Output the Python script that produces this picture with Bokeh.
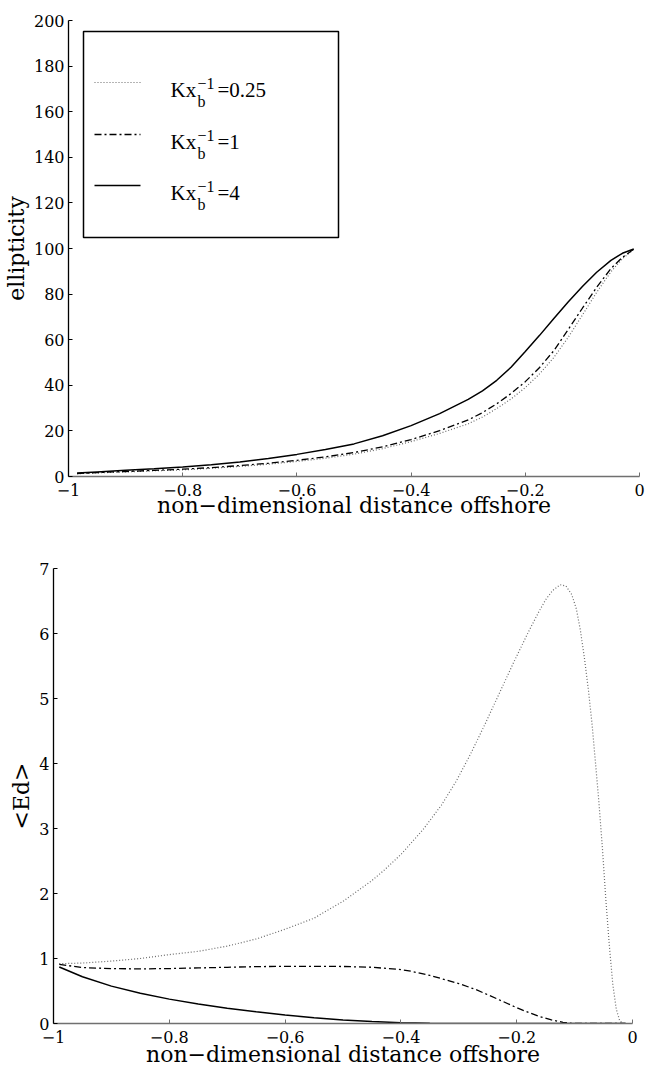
from bokeh.plotting import figure
from bokeh.models import (FixedTicker, BoxAnnotation, Arrow, Label, Range1d,
                          CustomJSTickFormatter)
from bokeh.embed import file_html
from bokeh.resources import INLINE

# ---------------- data ----------------
x_ticks = [-1, -0.8, -0.6, -0.4, -0.2, 0]
ell_ticks = [0, 20, 40, 60, 80, 100, 120, 140, 160, 180, 200]
ed_ticks = [0, 1, 2, 3, 4, 5, 6, 7]
series_labels = ["0.25", "1", "4"]

# top panel: ellipticity
ell_x = [-0.985, -0.95, -0.9, -0.85, -0.8, -0.75, -0.7, -0.65, -0.6, -0.55,
         -0.5, -0.45, -0.4, -0.35, -0.3, -0.275, -0.25, -0.225, -0.2, -0.175,
         -0.15, -0.125, -0.1, -0.075, -0.05, -0.03, -0.01]
ell_y_k4 = [1.5, 2.0, 2.7, 3.4, 4.2, 5.2, 6.4, 7.9, 9.7, 11.8,
            14.3, 17.9, 22.3, 27.6, 33.8, 37.6, 42.2, 47.9, 54.8, 61.9,
            69.3, 76.5, 83.3, 89.6, 94.8, 97.9, 99.8]
ell_y_k1 = [1.3, 1.7, 2.2, 2.7, 3.2, 3.9, 4.8, 5.8, 7.1, 8.6,
            10.5, 13.0, 16.2, 20.1, 24.8, 28.0, 31.9, 36.4, 41.6, 47.8,
            55.2, 64.4, 73.8, 83.0, 91.2, 96.1, 99.7]
ell_y_k025 = [1.2, 1.6, 2.0, 2.5, 2.9, 3.6, 4.4, 5.4, 6.6, 8.0,
              9.8, 12.2, 15.3, 18.9, 23.1, 26.1, 29.8, 34.0, 39.0, 45.0,
              52.2, 61.0, 70.8, 80.8, 89.8, 95.5, 99.6]

# bottom panel: <Ed>
ed_x_k025 = [-0.99, -0.95, -0.9, -0.85, -0.8, -0.75, -0.7, -0.65, -0.6, -0.55,
             -0.5, -0.45, -0.43, -0.4, -0.362, -0.33, -0.305, -0.28, -0.255, -0.23,
             -0.205, -0.18, -0.162, -0.15, -0.138, -0.125, -0.115, -0.105, -0.097,
             -0.09, -0.083, -0.076, -0.07, -0.064, -0.058, -0.052, -0.046, -0.04,
             -0.034, -0.028, -0.022, -0.016]
ed_y_k025 = [0.92, 0.93, 0.96, 1.0, 1.06, 1.11, 1.19, 1.3, 1.45, 1.62,
             1.88, 2.2, 2.35, 2.6, 2.98, 3.36, 3.72, 4.14, 4.6, 5.08,
             5.56, 6.02, 6.33, 6.52, 6.66, 6.75, 6.73, 6.6, 6.38,
             6.05, 5.62, 5.12, 4.62, 4.02, 3.4, 2.7, 1.9, 1.2,
             0.6, 0.22, 0.04, 0.0]
ed_x_k1 = [-0.99, -0.95, -0.9, -0.85, -0.8, -0.75, -0.7, -0.65, -0.6, -0.55,
           -0.5, -0.45, -0.4, -0.383, -0.35, -0.3, -0.27, -0.234, -0.198, -0.162,
           -0.14, -0.12, -0.105, -0.06, -0.012]
ed_y_k1 = [0.91, 0.86, 0.845, 0.84, 0.845, 0.855, 0.865, 0.875, 0.88, 0.88,
           0.877, 0.865, 0.83, 0.805, 0.74, 0.615, 0.52, 0.38, 0.235, 0.11,
           0.055, 0.018, 0.003, 0.0, 0.0]
ed_x_k4 = [-0.99, -0.95, -0.9, -0.85, -0.8, -0.75, -0.7, -0.65, -0.6, -0.55,
           -0.5, -0.45, -0.4, -0.35, -0.3, -0.25, -0.012]
ed_y_k4 = [0.87, 0.72, 0.575, 0.465, 0.375, 0.3, 0.235, 0.18, 0.13, 0.09,
           0.055, 0.03, 0.013, 0.004, 0.001, 0.0, 0.0]

# ---------------- styling ----------------
TICK_FONT = "DejaVu Serif"
LABEL_FONT = "DejaVu Serif"
LEG_FONT = "Liberation Serif"
DOT = dict(line_color="#6a6a6a", line_width=1.2, line_dash="1 2")
DASHDOT = dict(line_color="black", line_width=1.3, line_dash="7 3 2 3")
SOLID = dict(line_color="black", line_width=1.5)

minus_fmt = CustomJSTickFormatter(code="return tick < 0 ? '\u2212' + (-tick) : '' + tick;")


def make_fig(height, ymax, yticks, ylabel, borders, label_standoff):
    left, right, top, bottom = borders
    p = figure(width=648, height=height, output_backend="svg", toolbar_location=None,
               x_range=Range1d(-1, 0), y_range=Range1d(0, ymax),
               min_border_left=left, min_border_right=right,
               min_border_top=top, min_border_bottom=bottom)
    p.outline_line_color = None
    p.grid.visible = False
    p.background_fill_color = "white"
    p.border_fill_color = "white"
    p.xaxis.ticker = FixedTicker(ticks=x_ticks)
    p.yaxis.ticker = FixedTicker(ticks=yticks)
    p.xaxis.formatter = minus_fmt
    for ax in (p.xaxis[0], p.yaxis[0]):
        ax.major_tick_in = 4
        ax.major_tick_out = 0
        ax.minor_tick_line_color = None
        ax.major_label_text_font = TICK_FONT
        ax.major_label_text_font_size = "16px"
        ax.major_label_text_color = "black"
        ax.axis_label_text_font = LABEL_FONT
        ax.axis_label_text_font_size = "22px"
        ax.axis_label_text_font_style = "normal"
        ax.axis_label_text_color = "black"
    p.yaxis.axis_line_color = "black"
    p.yaxis.major_tick_line_color = "black"
    p.yaxis.axis_line_width = 1.3
    p.xaxis.axis_line_color = "#707070"
    p.xaxis.major_tick_line_color = "#707070"
    p.xaxis.axis_line_width = 1.5
    p.xaxis.axis_label = "non\u2212dimensional distance offshore"
    p.yaxis.axis_label = ylabel
    p.yaxis.major_label_standoff = 4
    p.yaxis.axis_label_standoff = 2
    p.xaxis.major_label_standoff = 7
    p.xaxis.axis_label_standoff = label_standoff
    return p


# ---------------- top figure ----------------
p1 = make_fig(538, 200, ell_ticks, "ellipticity", (68, 9, 20, 62), -6)
p1.line(ell_x, ell_y_k025, **DOT)
p1.line(ell_x, ell_y_k1, **DASHDOT)
p1.line(ell_x, ell_y_k4, **SOLID)

# legend drawn as annotations; page-pixel -> data helpers for the top frame
FX0, FX1, FY0, FY1 = 68, 639, 20, 476


def tx(px):
    return -1 + (px - FX0) / (FX1 - FX0)


def ty(py):
    return 200 * (FY1 - py) / (FY1 - FY0)


p1.add_layout(BoxAnnotation(left=tx(83), right=tx(338), top=ty(31), bottom=ty(237),
                            fill_color="white", fill_alpha=1.0,
                            line_color="black", line_width=1.5, line_alpha=1.0))
styles = [DOT, DASHDOT, SOLID]
row_y = [82, 134, 185]
for lab, st, ry in zip(series_labels, styles, row_y):
    p1.add_layout(Arrow(end=None, x_start=tx(94), x_end=tx(140), y_start=ty(ry), y_end=ty(ry),
                        line_color=st["line_color"], line_width=st["line_width"],
                        line_dash=st.get("line_dash", "solid")))
    base = ry + 7.5
    p1.add_layout(Label(x=tx(170), y=ty(base), text="Kx", text_font=LEG_FONT,
                        text_font_size="21px", text_baseline="alphabetic", text_color="black"))
    p1.add_layout(Label(x=tx(197), y=ty(base + 11), text="b", text_font=LEG_FONT,
                        text_font_size="16px", text_baseline="alphabetic", text_color="black"))
    p1.add_layout(Label(x=tx(197), y=ty(base - 7), text="\u22121", text_font=LEG_FONT,
                        text_font_size="16px", text_baseline="alphabetic", text_color="black"))
    p1.add_layout(Label(x=tx(217), y=ty(base), text="=" + lab, text_font=LEG_FONT,
                        text_font_size="21px", text_baseline="alphabetic", text_color="black"))

# ---------------- bottom figure ----------------
p2 = make_fig(534, 7, ed_ticks, "<Ed>", (53, 16, 30, 49), -4)
p2.line(ed_x_k025, ed_y_k025, **DOT)
p2.line(ed_x_k1, ed_y_k1, **DASHDOT)
p2.line(ed_x_k4, ed_y_k4, **SOLID)

open("out.html", "w").write(file_html([p1, p2], INLINE))
